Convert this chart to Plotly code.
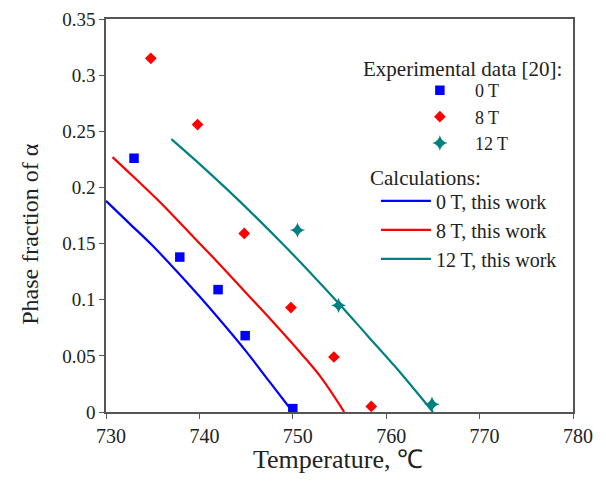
import plotly.graph_objects as go

# Experimental data [20]
exp0_T = [733.0, 737.9, 742.0, 744.9, 750.0]
exp0_f = [0.226, 0.138, 0.109, 0.068, 0.003]
exp8_T = [734.8, 739.8, 744.8, 749.8, 754.4, 758.4]
exp8_f = [0.315, 0.256, 0.159, 0.093, 0.049, 0.005]
exp12_T = [750.5, 754.9, 764.9]
exp12_f = [0.162, 0.095, 0.007]

# Calculations, this work
calc0_T = [730.0, 732.5, 735.0, 737.5, 740.0, 742.5, 745.0, 747.5, 750.0]
calc0_f = [0.188, 0.168, 0.148, 0.126, 0.103, 0.079, 0.054, 0.027, 0.0]
calc8_T = [730.7, 733.0, 736.0, 739.0, 742.0, 745.0, 748.0, 751.0, 753.0, 755.5]
calc8_f = [0.227, 0.209, 0.185, 0.159, 0.133, 0.106, 0.079, 0.051, 0.031, 0.0]
calc12_T = [737.0, 740.0, 743.0, 746.0, 749.0, 752.0, 755.0, 758.0, 761.0, 765.0]
calc12_f = [0.243, 0.221, 0.198, 0.174, 0.149, 0.123, 0.096, 0.068, 0.040, 0.0]

SERIF = '"Liberation Serif", "Times New Roman", Times, serif'
TXT = "#222222"
AX = "#555555"

fig = go.Figure()

marker_series = [
    ("0 T", exp0_T, exp0_f, "square", "#0000ff", 9.5),
    ("8 T", exp8_T, exp8_f, "diamond", "#ff0000", 9),
    ("12 T", exp12_T, exp12_f, "star-diamond", "#008080", 11),
]
for name, xs, ys, sym, col, sz in marker_series:
    fig.add_trace(go.Scatter(
        x=xs, y=ys, mode="markers", name=name, legend="legend",
        legendgroup="exp",
        marker=dict(symbol=sym, color=col, size=sz, line=dict(width=0)),
        cliponaxis=False,
    ))

line_series = [
    ("0 T, this work", calc0_T, calc0_f, "#0000ff"),
    ("8 T, this work", calc8_T, calc8_f, "#ff0000"),
    ("12 T, this work", calc12_T, calc12_f, "#008080"),
]
for name, xs, ys, col in line_series:
    fig.add_trace(go.Scatter(
        x=xs, y=ys, mode="lines", name=name, legend="legend2",
        legendgroup="calc",
        line=dict(color=col, width=2.2, shape="spline", smoothing=1.0),
    ))

fig.update_layout(
    width=606, height=481,
    margin=dict(l=106, r=33, t=19, b=69, autoexpand=False),
    paper_bgcolor="white", plot_bgcolor="white",
    font=dict(family=SERIF, color=TXT, size=19),
    legend=dict(x=0.64, y=0.865, xanchor="left", yanchor="top",
                bgcolor="rgba(0,0,0,0)", font=dict(size=18, family=SERIF, color=TXT),
                itemwidth=60, tracegroupgap=0, itemclick=False),
    legend2=dict(x=0.578, y=0.587, xanchor="left", yanchor="top",
                 bgcolor="rgba(0,0,0,0)", font=dict(size=20, family=SERIF, color=TXT),
                 itemwidth=50, tracegroupgap=0, itemclick=False),
    annotations=[
        dict(text="Experimental data [20]:", xref="paper", yref="paper",
             x=0.546, y=0.872, xanchor="left", yanchor="middle", showarrow=False,
             font=dict(size=21, family=SERIF, color=TXT)),
        dict(text="Calculations:", xref="paper", yref="paper",
             x=0.561, y=0.595, xanchor="left", yanchor="middle", showarrow=False,
             font=dict(size=21, family=SERIF, color=TXT)),
        dict(text="Phase fraction of α", xref="paper", yref="paper",
             x=-0.163, y=0.453, xanchor="center", yanchor="middle", showarrow=False,
             textangle=-90, font=dict(size=24, family=SERIF, color=TXT)),
        dict(text="Temperature, ℃", xref="paper", yref="paper",
             x=0.497, y=-0.122, xanchor="center", yanchor="middle", showarrow=False,
             font=dict(size=26, family=SERIF, color=TXT)),
    ],
)

fig.update_xaxes(
    range=[730, 780], tick0=730, dtick=10, showgrid=False, zeroline=False,
    showline=True, linecolor=AX, linewidth=1.5, mirror=True,
    ticks="outside", ticklen=5, tickcolor=AX, tickwidth=1.2,
    tickfont=dict(size=20, family=SERIF, color=TXT), ticklabelshift=5,
    automargin=False,
)
fig.update_yaxes(
    range=[0, 0.35], tick0=0, dtick=0.05, showgrid=False, zeroline=False,
    showline=True, linecolor=AX, linewidth=1.5, mirror=True,
    ticks="outside", ticklen=5, tickcolor=AX, tickwidth=1.2,
    tickfont=dict(size=19, family=SERIF, color=TXT),
    tickformat="~g", automargin=False,
)

fig.write_html("out.html")
